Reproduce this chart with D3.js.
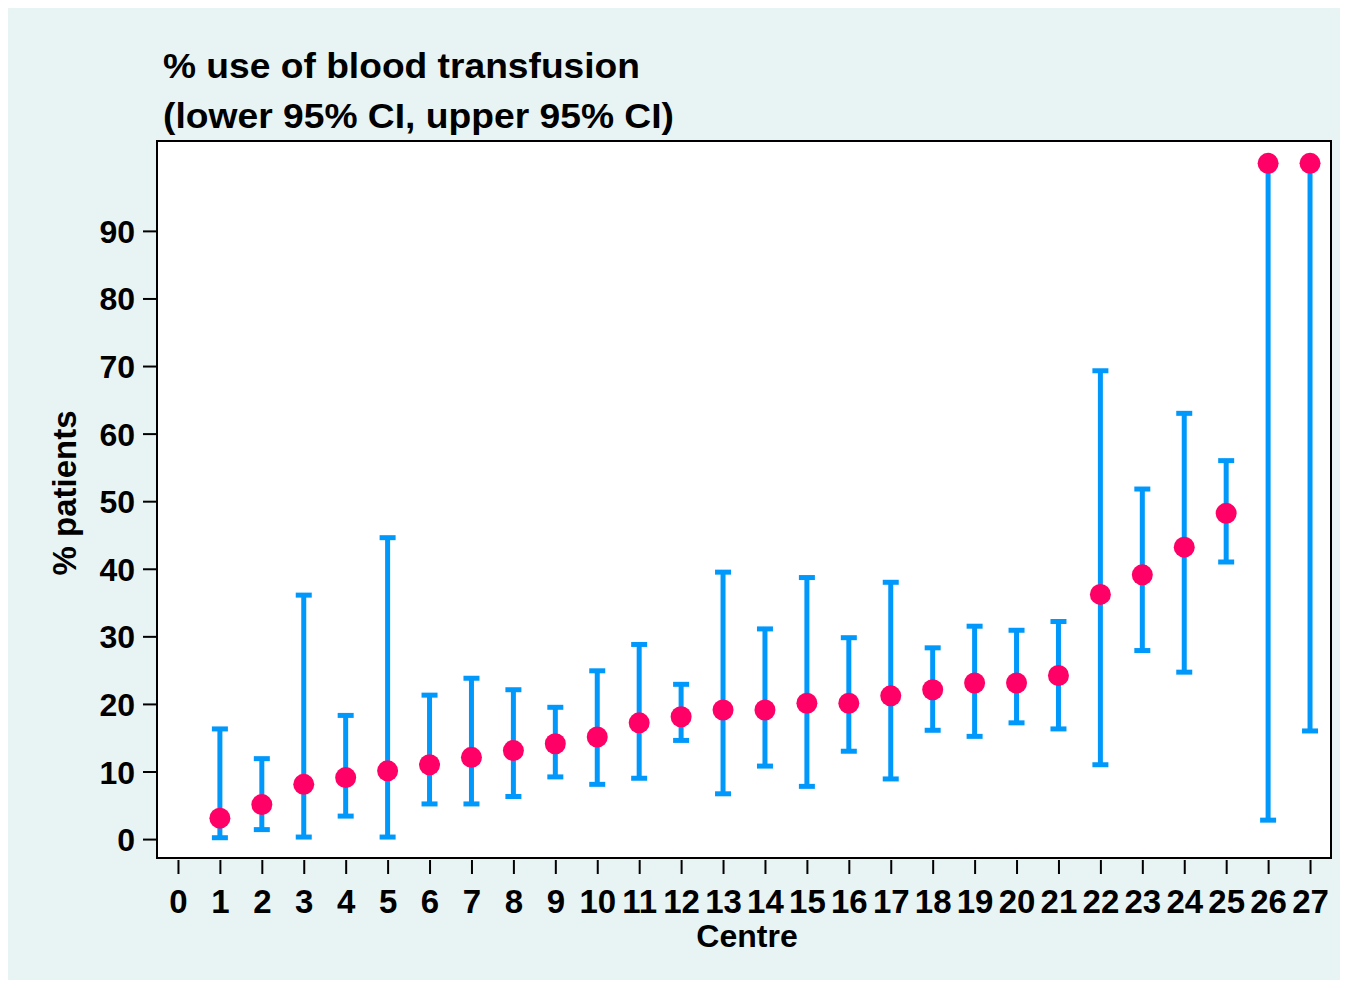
<!DOCTYPE html>
<html><head><meta charset="utf-8">
<script src="https://cdn.jsdelivr.net/npm/d3@7"></script>
<style>body{margin:0;background:#fff}svg{display:block}text{font-family:"Liberation Sans",Arial,sans-serif;font-weight:bold;fill:#000}</style>
</head><body>
<svg id="c" width="1348" height="988"></svg>
<script>
const centres = d3.range(1, 28);
const pct   = [3.1,5.1,8.1,9.1,10.1,11.0,12.1,13.1,14.1,15.1,17.2,18.1,19.1,19.1,20.1,20.1,21.2,22.1,23.1,23.1,24.2,36.2,39.1,43.2,48.2,100,100];
const lower = [0.2,1.4,0.3,3.4,0.3,5.2,5.2,6.3,9.2,8.1,9.0,14.6,6.7,10.8,7.8,13.0,8.9,16.1,15.2,17.2,16.3,11.0,27.9,24.7,41.0,2.8,16.0];
const upper = [16.3,11.9,36.1,18.3,44.6,21.3,23.8,22.1,19.5,24.9,28.8,22.9,39.5,31.1,38.7,29.8,38.0,28.3,31.5,30.9,32.2,69.3,51.8,63.0,56.0,100,100];
const xTicks = d3.range(0, 28);
const yTicks = [0,10,20,30,40,50,60,70,80,90];
const titleLines = ["% use of blood transfusion", "(lower 95% CI, upper 95% CI)"];

const svg = d3.select("#c");
svg.append("rect").attr("x",8).attr("y",8).attr("width",1332).attr("height",972).attr("fill","#e8f4f4");

const L=157,T=141,R=1331,B=858;
const x = d3.scaleLinear().domain([-0.5,27.5]).range([L,R]);
const y = d3.scaleLinear().domain([-2.8,103.3]).range([B,T]);

svg.append("rect").attr("x",L).attr("y",T).attr("width",R-L).attr("height",B-T).attr("fill","#fff");

const data = centres.map((c,i)=>({c, p:pct[i], lo:lower[i], hi:upper[i]}));
const blue="#0098fa", pink="#ff0066";
const g = svg.append("g");
g.selectAll(".bar").data(data).join("line")
  .attr("x1",d=>x(d.c)).attr("x2",d=>x(d.c)).attr("y1",d=>y(d.lo)).attr("y2",d=>y(d.hi))
  .attr("stroke",blue).attr("stroke-width",5);
g.selectAll(".capl").data(data).join("line")
  .attr("x1",d=>x(d.c)-8).attr("x2",d=>x(d.c)+8).attr("y1",d=>y(d.lo)).attr("y2",d=>y(d.lo))
  .attr("stroke",blue).attr("stroke-width",5);
g.selectAll(".capu").data(data).join("line")
  .attr("x1",d=>x(d.c)-8).attr("x2",d=>x(d.c)+8).attr("y1",d=>y(d.hi)).attr("y2",d=>y(d.hi))
  .attr("stroke",blue).attr("stroke-width",5);
g.selectAll("circle").data(data).join("circle")
  .attr("cx",d=>x(d.c)).attr("cy",d=>y(d.p)).attr("r",10.5).attr("fill",pink);

svg.append("rect").attr("x",L).attr("y",T).attr("width",R-L).attr("height",B-T)
  .attr("fill","none").attr("stroke","#000").attr("stroke-width",2);

// y axis
const ya = svg.append("g").attr("transform",`translate(${L},0)`)
  .call(d3.axisLeft(y).tickValues(yTicks).tickSize(14).tickPadding(8).tickSizeOuter(0));
ya.select(".domain").remove();
ya.selectAll(".tick line").attr("stroke","#000").attr("stroke-width",2);
ya.selectAll(".tick text").attr("font-size",32).attr("font-family","Liberation Sans, Arial, sans-serif").attr("font-weight","bold").attr("dy","0.36em");

// x axis
const xa = svg.append("g").attr("transform",`translate(0,${B+2})`)
  .call(d3.axisBottom(x).tickValues(xTicks).tickSize(14).tickPadding(16).tickSizeOuter(0));
xa.select(".domain").remove();
xa.selectAll(".tick line").attr("stroke","#000").attr("stroke-width",2);
xa.selectAll(".tick text").attr("font-size",33).attr("font-family","Liberation Sans, Arial, sans-serif").attr("font-weight","bold");

svg.append("text").attr("x",747).attr("y",947).attr("text-anchor","middle").attr("font-size",32).text("Centre");
svg.append("text").attr("transform","translate(76,493) rotate(-90)").attr("text-anchor","middle").attr("font-size",33).text("% patients");

const tl=[477,511];
titleLines.forEach((t,i)=>{
  svg.append("text").attr("x",163).attr("y",78+i*50).attr("font-size",35)
    .attr("textLength",tl[i]).attr("lengthAdjust","spacingAndGlyphs").text(t);
});
</script>
</body></html>
